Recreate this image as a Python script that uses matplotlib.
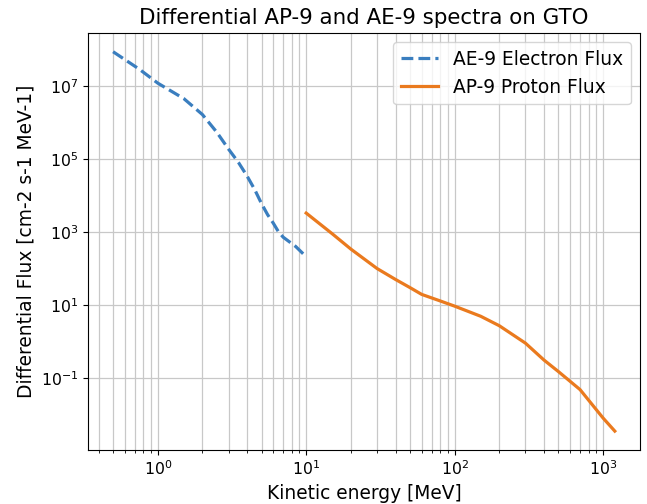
import matplotlib
matplotlib.use("Agg")
import matplotlib.pyplot as plt
from matplotlib.ticker import NullLocator

# AE-9 electron spectrum (MeV, cm-2 s-1 MeV-1)
e_energy = [0.5, 0.75, 1, 1.5, 2, 2.5, 3, 3.5, 4, 4.5, 5, 5.5, 6, 6.5, 7, 8.5, 10]
e_flux = [8.7e7, 2.9e7, 1.2e7, 4.5e6, 1.65e6, 5.4e5, 1.86e5, 8.0e4, 3.4e4,
          1.45e4, 6.0e3, 2.97e3, 1.75e3, 1.02e3, 720, 400, 210]

# AP-9 proton spectrum
p_energy = [10, 15, 20, 30, 40, 50, 60, 80, 100, 150, 200, 300, 400, 500, 700, 1000, 1200]
p_flux = [3300, 890, 340, 100, 50, 30, 19.5, 12.9, 9.3, 4.9, 2.7, 0.9, 0.31, 0.15,
          0.048, 0.008, 0.0035]

fig = plt.figure(figsize=(6.47, 5.04), dpi=100)
ax = fig.add_axes([0.136, 0.107, 0.853, 0.828])

ax.plot(e_energy, e_flux, linestyle="--", color="#3a7ebf", linewidth=2.3,
        label="AE-9 Electron Flux")
ax.plot(p_energy, p_flux, linestyle="-", color="#ea7a1e", linewidth=2.3,
        label="AP-9 Proton Flux")

ax.set_xscale("log")
ax.set_yscale("log")
ax.yaxis.set_minor_locator(NullLocator())
ax.grid(True, which="both", color="#c8c8c8", linewidth=0.9)
ax.set_axisbelow(True)

ax.set_title("Differential AP-9 and AE-9 spectra on GTO", fontsize=15.4)
ax.set_xlabel("Kinetic energy [MeV]", fontsize=13.4)
ax.set_ylabel("Differential Flux [cm-2 s-1 MeV-1]", fontsize=13.4)
ax.tick_params(labelsize=11.3)
ax.legend(loc="upper right", fontsize=13.4)

fig.savefig("out.png", dpi=100)
